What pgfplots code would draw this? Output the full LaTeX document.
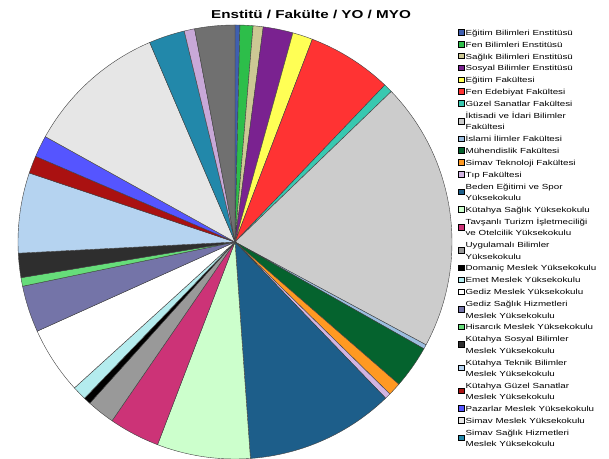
\documentclass[border=0pt]{standalone}
\usepackage{fontspec}
\setmainfont[FakeStretch=1.33]{Liberation Sans}
\usepackage{pgfplots}
\usepackage{pgfplotstable}
\pgfplotsset{compat=1.18}

\definecolor{c1}{HTML}{3F5FB0}
\definecolor{c2}{HTML}{2DBE4A}
\definecolor{c3}{HTML}{CCC894}
\definecolor{c4}{HTML}{7A2290}
\definecolor{c5}{HTML}{FFFF55}
\definecolor{c6}{HTML}{FF3333}
\definecolor{c7}{HTML}{38C8B0}
\definecolor{c8}{HTML}{CCCCCC}
\definecolor{c9}{HTML}{9CBEE0}
\definecolor{c10}{HTML}{05632E}
\definecolor{c11}{HTML}{FF9922}
\definecolor{c12}{HTML}{D2B4E2}
\definecolor{c13}{HTML}{1D5E8A}
\definecolor{c14}{HTML}{CCFFCC}
\definecolor{c15}{HTML}{CC3377}
\definecolor{c16}{HTML}{999999}
\definecolor{c17}{HTML}{000000}
\definecolor{c18}{HTML}{B4ECEE}
\definecolor{c19}{HTML}{FFFFFF}
\definecolor{c20}{HTML}{7474A8}
\definecolor{c21}{HTML}{66DD7A}
\definecolor{c22}{HTML}{2E2E2E}
\definecolor{c23}{HTML}{B5D3F0}
\definecolor{c24}{HTML}{AA1111}
\definecolor{c25}{HTML}{5555FF}
\definecolor{c26}{HTML}{E6E6E6}
\definecolor{c27}{HTML}{2288AA}
\definecolor{c28}{HTML}{C8A8D8}
\definecolor{c29}{HTML}{707070}

% share of each unit in percent, clockwise from 12 o'clock
\pgfplotstableread[col sep=comma]{
share,color
0.36,c1
0.97,c2
0.75,c3
2.22,c4
1.50,c5
6.33,c6
0.67,c7
20.06,c8
0.33,c9
3.19,c10
0.97,c11
0.44,c12
11.08,c13
6.94,c14
3.78,c15
2.08,c16
0.53,c17
1.06,c18
5.00,c19
3.47,c20
0.64,c21
1.81,c22
5.97,c23
1.31,c24
1.61,c25
10.50,c26
2.67,c27
0.78,c28
2.98,c29
}\piedata

\newcommand\s{\strut}

\begin{document}
\begin{tikzpicture}[x=1bp,y=1bp]
\path[use as bounding box] (0,0) rectangle (609,459);
\node[font=\bfseries\fontsize{11.5}{13}\selectfont] at (311,445) {Enstitü / Fakülte / YO / MYO};
\begin{axis}[
  at={(18bp,0bp)}, anchor=south west,
  scale only axis, width=434bp, height=434bp,
  xmin=-1, xmax=1, ymin=-1, ymax=1,
  hide axis, clip=false,
  legend image code/.code={\draw[#1,draw=black,line width=0.4bp] (0bp,-2.8bp) rectangle (5.6bp,2.8bp);},
  legend cell align=left,
  legend style={at={(1.014,0.9947)}, anchor=north west, draw=none, fill=none,
    inner sep=0pt, outer sep=0pt,
    font=\fontsize{7.4}{11.4}\selectfont, row sep=2.45bp,
    cells={anchor=west, align=left}, nodes={inner sep=0pt, inner xsep=1.5bp}},
]
\pgfplotstablegetrowsof{\piedata}
\pgfmathtruncatemacro\last{\pgfplotsretval-1}
\def\cum{0}
\pgfplotsforeachungrouped \i in {0,...,\last}{%
  \pgfplotstablegetelem{\i}{share}\of\piedata
  \let\v\pgfplotsretval
  \pgfplotstablegetelem{\i}{color}\of\piedata
  \let\c\pgfplotsretval
  \pgfmathsetmacro\a{\cum}
  \pgfmathsetmacro\b{\cum+3.6*\v}
  \edef\slice{\noexpand\addplot[fill=\c, draw=black!75, line width=0.4bp, domain=\a:\b, samples=40] ({sin(x)},{cos(x)}) -- (axis cs:0,0) -- cycle;}
  \slice
  \let\cum\b
}
\legend{\s Eğitim Bilimleri Enstitüsü, \s Fen Bilimleri Enstitüsü, \s Sağlık Bilimleri Enstitüsü,
  \s Sosyal Bilimler Enstitüsü, \s Eğitim Fakültesi, \s Fen Edebiyat Fakültesi, \s Güzel Sanatlar Fakültesi,
  {\s İktisadi ve İdari Bilimler\\\s Fakültesi}, \s İslami İlimler Fakültesi, \s Mühendislik Fakültesi,
  \s Simav Teknoloji Fakültesi, \s Tıp Fakültesi, {\s Beden Eğitimi ve Spor\\\s Yüksekokulu},
  \s Kütahya Sağlık Yüksekokulu, {\s Tavşanlı Turizm İşletmeciliği\\\s ve Otelcilik Yüksekokulu},
  {\s Uygulamalı Bilimler\\\s Yüksekokulu}, \s Domaniç Meslek Yüksekokulu, \s Emet Meslek Yüksekokulu,
  \s Gediz Meslek Yüksekokulu, {\s Gediz Sağlık Hizmetleri\\\s Meslek Yüksekokulu},
  \s Hisarcık Meslek Yüksekokulu, {\s Kütahya Sosyal Bilimler\\\s Meslek Yüksekokulu},
  {\s Kütahya Teknik Bilimler\\\s Meslek Yüksekokulu}, {\s Kütahya Güzel Sanatlar\\\s Meslek Yüksekokulu},
  \s Pazarlar Meslek Yüksekokulu, \s Simav Meslek Yüksekokulu,
  {\s Simav Sağlık Hizmetleri\\\s Meslek Yüksekokulu}}
\end{axis}
\end{tikzpicture}
\end{document}
